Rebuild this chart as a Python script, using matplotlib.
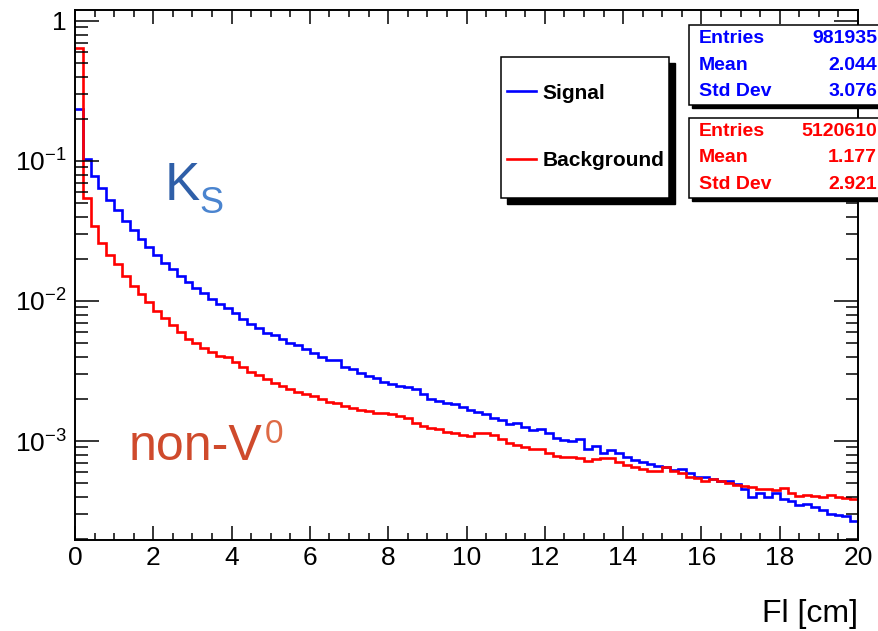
import numpy as np
import matplotlib
matplotlib.use("Agg")
import matplotlib.pyplot as plt
from matplotlib.patches import Rectangle
from matplotlib.ticker import MultipleLocator, LogLocator, NullFormatter, FuncFormatter

plt.rcParams['font.family'] = ['Liberation Sans', 'DejaVu Sans']
plt.rcParams['mathtext.fontset'] = 'custom'
plt.rcParams['mathtext.rm'] = 'Liberation Sans'
plt.rcParams['mathtext.it'] = 'Liberation Sans:italic'
plt.rcParams['mathtext.bf'] = 'Liberation Sans:bold'

# histogram binning (FI in cm)
x_min, x_max, n_bins = 0.0, 20.0, 100

# normalised bin contents
signal = [0.235, 0.103, 0.0785, 0.0638, 0.0524, 0.0444, 0.0375, 0.0323, 0.0279, 0.0244,
          0.0213, 0.0188, 0.0168, 0.0151, 0.0137, 0.0124, 0.0114, 0.0103, 0.00957, 0.00887,
          0.00817, 0.00744, 0.00685, 0.00638, 0.00588, 0.00575, 0.00532, 0.00504, 0.00482, 0.00451,
          0.00423, 0.0040, 0.00379, 0.00376, 0.0034, 0.00325, 0.00307, 0.00291, 0.00281, 0.00265,
          0.00255, 0.00247, 0.00242, 0.00234, 0.00217, 0.00199, 0.00193, 0.00188, 0.00184, 0.00176,
          0.00166, 0.0016, 0.00155, 0.00145, 0.00141, 0.00132, 0.00135, 0.00125, 0.0012, 0.00122,
          0.00115, 0.00105, 0.00102, 0.0010, 0.00104, 0.00087, 0.00092, 0.000816, 0.000863, 0.000825,
          0.000765, 0.000732, 0.000708, 0.000685, 0.000663, 0.00065, 0.00062, 0.00063, 0.000594, 0.000556,
          0.00055, 0.000538, 0.000515, 0.00052, 0.000493, 0.000452, 0.0004, 0.000423, 0.0004, 0.000427,
          0.000383, 0.000375, 0.000347, 0.000355, 0.000336, 0.000321, 0.000301, 0.000298, 0.000291, 0.00027]

background = [0.644, 0.0547, 0.0345, 0.0261, 0.0213, 0.0185, 0.0151, 0.0129, 0.0112, 0.0098,
              0.0085, 0.00757, 0.00675, 0.00598, 0.00535, 0.00499, 0.00464, 0.00434, 0.00407, 0.00396,
              0.00368, 0.00338, 0.00313, 0.00296, 0.00276, 0.00258, 0.00247, 0.00237, 0.00225, 0.00217,
              0.0021, 0.00199, 0.00191, 0.00186, 0.00178, 0.00171, 0.00166, 0.00164, 0.00159, 0.00158,
              0.00156, 0.00151, 0.00145, 0.00135, 0.00129, 0.00123, 0.00121, 0.00116, 0.00115, 0.0011,
              0.00109, 0.00115, 0.00114, 0.0011, 0.00103, 0.00096, 0.00094, 0.0009, 0.00087, 0.00088,
              0.000816, 0.00078, 0.00077, 0.00077, 0.00076, 0.000723, 0.00074, 0.000757, 0.000752, 0.000705,
              0.000678, 0.000655, 0.00063, 0.000608, 0.000614, 0.000655, 0.000614, 0.000594, 0.000556, 0.000542,
              0.00052, 0.000532, 0.00052, 0.000499, 0.000485, 0.000477, 0.000467, 0.000452, 0.000452, 0.000447,
              0.000462, 0.000427, 0.000405, 0.00041, 0.000405, 0.0004, 0.000413, 0.0004, 0.000392, 0.000383]

# stat box contents
stat_names = ['Entries', 'Mean', 'Std Dev']
signal_stats = ['981935', '2.044', '3.076']
background_stats = ['5120610', '1.177', '2.921']

W, H = 879, 631
fig = plt.figure(figsize=(W / 100, H / 100), dpi=100)
ax = fig.add_axes([75 / W, 1 - 540 / H, (858 - 75) / W, (540 - 10) / H])

edges = np.linspace(x_min, x_max, n_bins + 1)
h_sig = ax.stairs(signal, edges, baseline=None, color='#0000ff', lw=1.9, label='Signal')
h_bkg = ax.stairs(background, edges, baseline=None, color='#ff0000', lw=1.9, label='Background')

ax.set_yscale('log')
ax.set_xlim(x_min, x_max)
ax.set_ylim(1.963e-4, 1.198)

ax.xaxis.set_major_locator(MultipleLocator(2))
ax.xaxis.set_minor_locator(MultipleLocator(0.5))
ax.yaxis.set_major_locator(LogLocator(base=10))
ax.yaxis.set_minor_locator(LogLocator(base=10, subs=np.arange(2, 10)))
ax.yaxis.set_minor_formatter(NullFormatter())


def log_fmt(v, pos):
    e = int(round(np.log10(v)))
    if e == 0:
        return '1'
    return r'$\mathregular{10^{%d}}$' % e


ax.yaxis.set_major_formatter(FuncFormatter(log_fmt))

ax.tick_params(which='both', direction='in', top=True, right=True, width=1.1, color='black')
ax.tick_params(axis='x', which='major', length=10, labelsize=19, pad=4)
ax.tick_params(axis='x', which='minor', length=5)
ax.tick_params(axis='y', which='major', length=17, labelsize=19, pad=6)
ax.tick_params(axis='y', which='minor', length=9)
for s in ax.spines.values():
    s.set_linewidth(1.4)

ax.set_xlabel('Fl [cm]', loc='right', fontsize=23, labelpad=21)

# K_S and non-V0 annotations
fig.text(165 / W, 1 - 200 / H, 'K', color='#2f5fa8', fontsize=38, va='baseline')
fig.text(199 / W, 1 - 213 / H, 'S', color='#4a84cf', fontsize=26, va='baseline')
fig.text(129 / W, 1 - 460 / H, 'non-V', color='#cf4a2c', fontsize=36, va='baseline')
fig.text(265 / W, 1 - 443 / H, '0', color='#de6a45', fontsize=24, va='baseline')

# legend box with shadow
lx0, ly0, lx1, ly1 = 501, 57, 669, 198
fig.patches.append(Rectangle((lx0 / W + 6 / W, 1 - (ly1 + 6) / H), (lx1 - lx0) / W, (ly1 - ly0) / H,
                             transform=fig.transFigure, facecolor='black', edgecolor='black', zorder=1))
fig.patches.append(Rectangle((lx0 / W, 1 - ly1 / H), (lx1 - lx0) / W, (ly1 - ly0) / H,
                             transform=fig.transFigure, facecolor='white', edgecolor='black', lw=1.1, zorder=2))
fig.legend(handles=[h_sig, h_bkg], loc='center left', bbox_to_anchor=(507 / W, 1 - 127 / H),
           frameon=False, borderpad=0, borderaxespad=0, handlelength=1.4, handletextpad=0.3,
           labelspacing=2.35, prop={'weight': 'bold', 'size': 15})

# stat boxes
def stat_box(top, bottom, values, color):
    fig.patches.append(Rectangle((692 / W, 1 - (bottom + 3) / H), 220 / W, (bottom - top) / H,
                                 transform=fig.transFigure, facecolor='black', edgecolor='black', zorder=1))
    fig.patches.append(Rectangle((689 / W, 1 - bottom / H), 220 / W, (bottom - top) / H,
                                 transform=fig.transFigure, facecolor='white', edgecolor='black', lw=1.1, zorder=2))
    row_h = (bottom - top) / len(values)
    for i, (name, val) in enumerate(zip(stat_names, values)):
        yc = 1 - (top + row_h * (i + 0.5)) / H
        fig.text(699 / W, yc, name, color=color, fontsize=14, fontweight='bold', va='center', ha='left', zorder=3)
        fig.text(877 / W, yc, val, color=color, fontsize=14, fontweight='bold', va='center', ha='right', zorder=3)


stat_box(25, 105, signal_stats, '#0000ff')
stat_box(118, 198, background_stats, '#ff0000')

fig.savefig('out.png', dpi=100)
